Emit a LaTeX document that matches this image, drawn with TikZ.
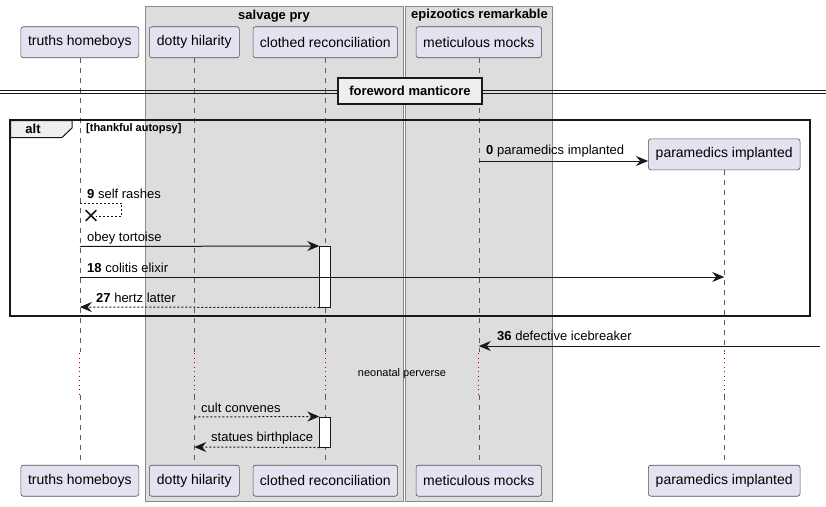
\documentclass[tikz,border=0pt]{standalone}
\usepackage{fontspec}
\setmainfont{Liberation Sans}
\usetikzlibrary{arrows.meta,shapes.misc}
\definecolor{partfill}{HTML}{E2E2F0}
\definecolor{partline}{HTML}{181818}
\definecolor{boxfill}{HTML}{DDDDDD}
\definecolor{boxline}{HTML}{8A8A8A}
\definecolor{tabfill}{HTML}{EEEEEE}
\definecolor{delayred}{HTML}{A80036}
\begin{document}
\begin{tikzpicture}[x=1pt,y=-1pt,
  part/.style={draw=partline!75, fill=partfill, rounded corners=2.5pt, line width=0.6pt,
    font=\fontsize{14}{16}\selectfont, minimum height=31pt, inner sep=0pt},
  grp/.style={draw=boxline, fill=boxfill, line width=0.8pt},
  grptitle/.style={font=\bfseries\fontsize{13}{15}\selectfont, inner sep=0pt},
  life/.style={draw=partline!70, line width=0.5pt, dash pattern=on 5pt off 5pt},
  delayline/.style={draw=delayred, line width=0.7pt, dash pattern=on 1pt off 3.5pt},
  divline/.style={draw=partline, line width=1pt},
  divbox/.style={draw=partline, fill=tabfill, line width=1.5pt, minimum width=144pt,
    minimum height=26pt, inner sep=0pt, font=\bfseries\fontsize{13}{15}\selectfont},
  altframe/.style={draw=partline, line width=1.5pt},
  lbl/.style={anchor=west, inner sep=0pt, font=\fontsize{13}{15}\selectfont},
  msgtip/.tip={Stealth[length=12pt,width=10pt,inset=4pt]},
  msg/.style={draw=partline, line width=1pt, -msgtip},
  reply/.style={draw=partline, line width=1pt, dash pattern=on 2pt off 2pt, -msgtip},
  selfmsg/.style={draw=partline, line width=0.8pt, dash pattern=on 2pt off 2pt},
  act/.style={draw=partline, fill=white, line width=1pt, minimum width=11pt, inner sep=0pt}
]
\useasboundingbox (0,0) rectangle (826,506);
\fill[white] (0,0) rectangle (826,506);

% groups
\draw[grp] (145,6) rectangle (403,501.5);
\draw[grp] (405,6) rectangle (552,501.5);
\node[grptitle] (g1) at (274,16) {salvage pry};
\node[grptitle] (g2) at (479.5,15) {epizootics remarkable};

% participants
\node[part, minimum width=118pt] (ta) at (79.8,42.2) {truths homeboys};
\node[part, minimum width=90pt] (da) at (194.3,42.2) {dotty hilarity};
\node[part, minimum width=144.5pt] (ca) at (325.3,42.2) {clothed reconciliation};
\node[part, minimum width=125.5pt] (ma) at (478.8,42.2) {meticulous mocks};
\node[part, minimum width=151.7pt] (pa) at (724.2,154.3) {paramedics implanted};

\node[part, minimum width=118pt] (tb) at (79.8,480.7) {truths homeboys};
\node[part, minimum width=90pt] (db) at (194.3,480.7) {dotty hilarity};
\node[part, minimum width=144.5pt] (cb) at (325.3,480.7) {clothed reconciliation};
\node[part, minimum width=125.5pt] (mb) at (478.8,480.7) {meticulous mocks};
\node[part, minimum width=151.7pt] (pb) at (724.2,480.7) {paramedics implanted};

% lifelines
\foreach \p in {t,d,c,m,p}{
  \draw[life] (\p a.south) -- (\p a.south |- 0,352);
  \draw[delayline] (\p a.south |- 0,353) -- (\p a.south |- 0,394);
  \draw[life] (\p b.north |- 0,395) -- (\p b.north);
}

% divider
\draw[divline] (0,90) -- (826,90);
\draw[divline] (0,93) -- (826,93);
\node[divbox] (dv) at (410,91) {foreword manticore};

% alt frame
\draw[altframe] (10,120) rectangle (810,316);
\draw[altframe, line width=1pt, fill=tabfill] (10.7,120.7) -- (72,120.7) -- (72,128) -- (62,137.5) -- (10.7,137.5) -- cycle;
\draw[altframe] (10,120) rectangle (810,316);
\node[grptitle] (altl) at (33,129) {alt};
\node[anchor=west, inner sep=0pt, font=\bfseries\fontsize{11}{13}\selectfont] (cond) at (86,129) {[thankful autopsy]};

% activations
\node[act, minimum height=60.5pt] (act1) at (ca.south |- 0,276.75) {};
\node[act, minimum height=30pt] (act2) at (ca.south |- 0,432) {};

% messages
\node[lbl] (l0) at (486,151) {\textbf{0} paramedics implanted};
\draw[msg] (ma.south |- 0,161) -- (pa.west |- 0,161);

\node[lbl] (l9) at (87,194) {\textbf{9} self rashes};
\node[draw=partline, cross out, line width=1.6pt, minimum size=9pt, inner sep=0pt] (xx) at (91,215.5) {};
\draw[selfmsg] (ta.south |- 0,203) -- ++(42,0) -- ++(0,13) -- (xx.east |- 0,216);

\node[lbl] (lo) at (87,238) {obey tortoise};
\draw[msg] (ta.south |- 0,246.5) -- (act1.north west);

\node[lbl] (l18) at (87,268) {\textbf{18} colitis elixir};
\draw[msg] (ta.south |- 0,277) -- (pa.south |- 0,277);

\node[lbl] (l27) at (96,298) {\textbf{27} hertz latter};
\draw[reply] (act1.south west) -- (ta.south |- 0,307);

\coordinate (ext) at (820,346);
\node[lbl] (l36) at (497,336) {\textbf{36} defective icebreaker};
\draw[msg] (ext) -- (ma.south |- 0,346);

\node[inner sep=0pt, font=\fontsize{11}{13}\selectfont] (dl) at (402,374) {neonatal perverse};

\node[lbl] (lc) at (201,408) {cult convenes};
\draw[reply] (da.south |- 0,417) -- (act2.north west);

\node[lbl] (ls) at (211,438.5) {statues birthplace};
\draw[reply] (act2.south west) -- (da.south |- 0,447);
\end{tikzpicture}
\end{document}
